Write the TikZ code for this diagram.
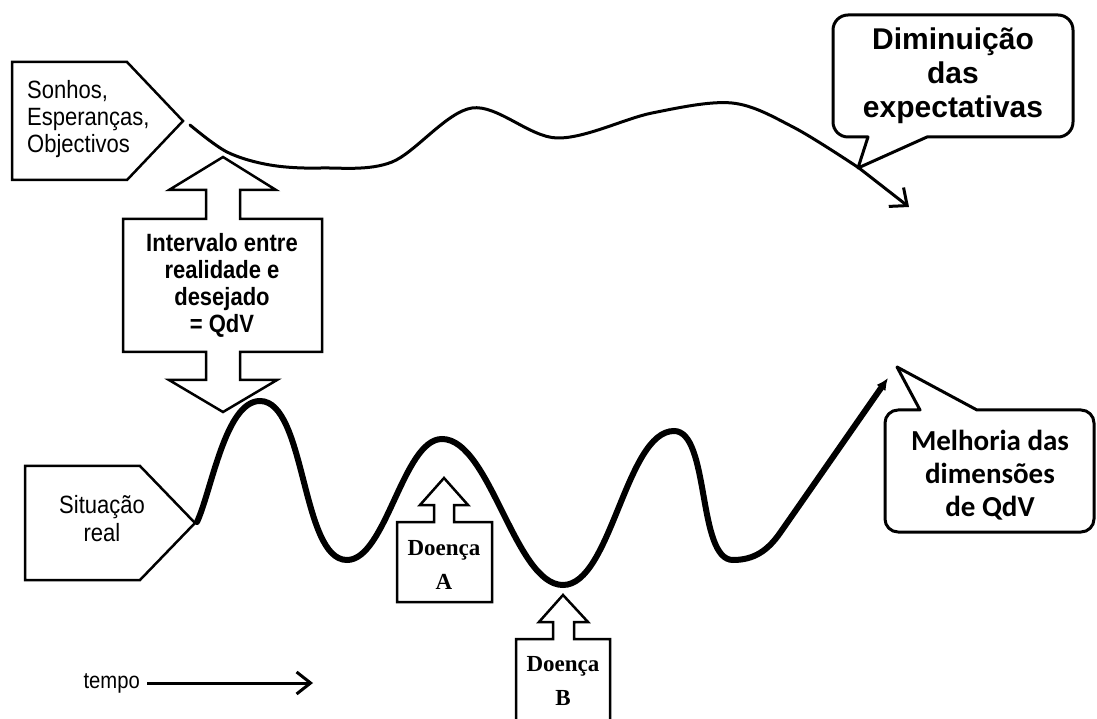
\documentclass[tikz,border=0pt]{standalone}
\usepackage{fontspec}
\setmainfont{Liberation Sans}
\newfontfamily\narrowfont[FakeStretch=0.88]{Liberation Sans}
\newfontfamily\tallfont[FakeStretch=0.88]{Liberation Sans}
\newfontfamily\calfont{Carlito}
\newfontfamily\seriffont{Liberation Serif}
\usetikzlibrary{arrows.meta}
\begin{document}
\begin{tikzpicture}[x=1pt,y=1pt,
  shapebox/.style={draw=black,line width=2.5pt,fill=white,line join=miter},
  callout/.style={draw=black,line width=3pt,fill=white,line join=round},
  lbl/.style={inner sep=0pt,align=center,text=black},
  topcurve/.style={draw=black,line width=3pt,line cap=round,
    -{Straight Barb[length=14pt,width=24pt,line width=3pt]}},
  botcurve/.style={draw=black,line width=6pt,line cap=round,
    -{Latex[length=12pt,width=11pt]}},
  timearrow/.style={draw=black,line width=3pt,
    -{Straight Barb[length=14pt,width=22pt,line width=3pt]}}]
\useasboundingbox (0,0) rectangle (1097,718);
\fill[white] (0,0) rectangle (1097,718);

% curves
\coordinate (ts) at (190,593);
\coordinate (tk) at (859,550);
\coordinate (te) at (909,511);
\draw[topcurve] plot[smooth,tension=0.55] coordinates {(ts) (227,566) (270,553) (321,550) (392,556) (472,610) (557,580) (652,605) (732,615) (793,591) (tk)} -- (te);

\coordinate (bs) at (197,196);
\coordinate (p1) at (260,317);
\coordinate (t1) at (347,158);
\coordinate (p2) at (442,279);
\coordinate (t2) at (563,133);
\coordinate (p3) at (674,287);
\coordinate (t3) at (733,158);
\coordinate (bm) at (780,185);
\coordinate (be) at (888,340);
\draw[botcurve] (bs) to[out=65,in=180,looseness=0.65] (p1)
  to[out=0,in=180,looseness=0.65] (t1) to[out=0,in=180,looseness=0.65] (p2)
  to[out=0,in=180,looseness=0.65] (t2) to[out=0,in=180,looseness=0.65] (p3)
  to[out=0,in=180,looseness=0.65] (t3) to[out=0,in=235] (bm) -- (be);

% Sonhos box
\draw[shapebox] (12,656) -- (127,656) -- (183,597) -- (127,538) -- (12,538) -- cycle;
\node[lbl,anchor=west,align=left,font=\tallfont\fontsize{25}{27}\selectfont] (sonhos) at (27,599)
  {Sonhos,\\Esperanças,\\Objectivos};

% Situacao box
\draw[shapebox] (25,252) -- (140,252) -- (195,195) -- (140,138) -- (25,138) -- cycle;
\node[lbl,font=\tallfont\fontsize{25}{28}\selectfont] (sit) at (102,199) {Situação\\real};

% Intervalo double arrow
\draw[shapebox] (223,561) -- (276,528) -- (240,528) -- (240,499) -- (322,499) -- (322,366)
  -- (240,366) -- (240,338) -- (277,338) -- (223,306) -- (169,338) -- (206,338) -- (206,366)
  -- (123,366) -- (123,499) -- (206,499) -- (206,528) -- (169,528) -- cycle;
\node[lbl,font=\narrowfont\bfseries\fontsize{25}{27}\selectfont] (interv) at (222,433)
  {Intervalo entre\\realidade e\\desejado\\= QdV};

% Doenca A
\draw[shapebox] (444,240) -- (468,213) -- (454,213) -- (454,196) -- (492,196) -- (492,116)
  -- (397,116) -- (397,196) -- (434,196) -- (434,213) -- (420,213) -- cycle;
\node[lbl,font=\seriffont\bfseries\fontsize{23}{34}\selectfont] (da) at (444,153) {Doença\\A};

% Doenca B
\draw[shapebox] (563,123) -- (588,96) -- (574,96) -- (574,79) -- (610,79) -- (610,-5)
  -- (516,-5) -- (516,79) -- (553,79) -- (553,96) -- (539,96) -- cycle;
\node[lbl,font=\seriffont\bfseries\fontsize{23}{34}\selectfont] (db) at (563,37) {Doença\\B};

% Diminuicao callout
\coordinate (dtip) at (858,550);
\draw[callout] (dtip) -- (927,581) [rounded corners=15pt] -- (1073,581) -- (1073,703)
  -- (833,703) -- (833,581) [sharp corners] -- (868,581) -- cycle;
\node[lbl,font=\bfseries\fontsize{30}{34}\selectfont] (dim) at (953,642)
  {Diminuição\\das\\expectativas};

% Melhoria callout
\coordinate (mtip) at (897,351);
\draw[callout] (mtip) -- (977,308) [rounded corners=13pt] -- (1094,308) -- (1094,186)
  -- (885,186) -- (885,308) [sharp corners] -- (920,308) -- cycle;
\node[lbl,font=\calfont\bfseries\fontsize{29}{33}\selectfont] (mel) at (990,243)
  {Melhoria das\\dimensões\\de QdV};

% tempo
\node[lbl,anchor=east,font=\tallfont\fontsize{23}{26}\selectfont] (tempo) at (140,35) {tempo};
\coordinate (tend) at (313,35);
\draw[timearrow] ([xshift=7pt]tempo.east) -- (tend);
\end{tikzpicture}
\end{document}
